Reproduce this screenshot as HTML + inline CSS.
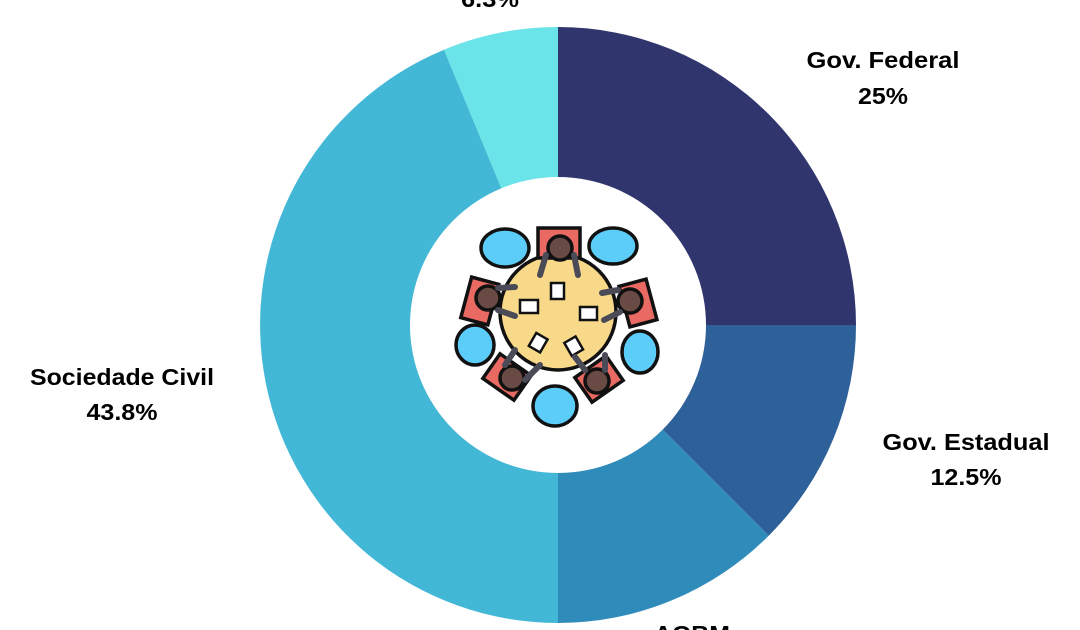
<!DOCTYPE html>
<html><head><style>
html,body{margin:0;padding:0;background:#fff;}
svg{display:block;}
text{font-family:"Liberation Sans","DejaVu Sans",sans-serif;font-weight:bold;font-size:23px;fill:#000;text-anchor:middle;}
</style></head><body>
<svg width="1080" height="630" viewBox="0 0 1080 630">
<path d="M558,325 L558,27 A298,298 0 0 1 856,325 Z" fill="#31356e"/>
<path d="M558,325 L856,325 A298,298 0 0 1 768.7,535.7 Z" fill="#2e6099"/>
<path d="M558,325 L768.7,535.7 A298,298 0 0 1 558,623 Z" fill="#2e8bba"/>
<path d="M558,325 L558,623 A298,298 0 0 1 444,49.7 Z" fill="#42b7d6"/>
<path d="M558,325 L444,49.7 A298,298 0 0 1 558,27 Z" fill="#6ae4e8"/>
<circle cx="558" cy="325" r="148" fill="#fff"/>
<g stroke="#111" stroke-width="3.5">
 <ellipse cx="505" cy="248" rx="24" ry="19" fill="#5bcdf8"/>
 <ellipse cx="613" cy="246" rx="24" ry="18" fill="#5bcdf8"/>
 <ellipse cx="475" cy="345" rx="19" ry="20" fill="#5bcdf8"/>
 <ellipse cx="640" cy="352" rx="18" ry="21" fill="#5bcdf8"/>
 <ellipse cx="555" cy="406" rx="22" ry="20" fill="#5bcdf8"/>
 <circle cx="558" cy="312" r="58" fill="#f8d889"/>
 <rect x="538" y="228" width="42" height="30" fill="#e86a62"/>
 <rect x="466" y="280" width="28" height="42" fill="#e86a62" transform="rotate(15 480 300)"/>
 <rect x="624" y="282" width="28" height="42" fill="#e86a62" transform="rotate(-15 638 303)"/>
 <rect x="488" y="362" width="38" height="30" fill="#e86a62" transform="rotate(35 507 377)"/>
 <rect x="580" y="364" width="38" height="30" fill="#e86a62" transform="rotate(-35 599 379)"/>
 <circle cx="560" cy="248" r="12" fill="#6a4a45"/>
 <circle cx="488" cy="298" r="12" fill="#6a4a45"/>
 <circle cx="630" cy="301" r="12" fill="#6a4a45"/>
 <circle cx="512" cy="378" r="12" fill="#6a4a45"/>
 <circle cx="597" cy="381" r="12" fill="#6a4a45"/>
 <rect x="551" y="283" width="13" height="16" fill="#fff" stroke-width="2.5"/>
 <rect x="520" y="300" width="18" height="13" fill="#fff" stroke-width="2.5"/>
 <rect x="580" y="307" width="17" height="13" fill="#fff" stroke-width="2.5"/>
 <rect x="532" y="335" width="13" height="15" fill="#fff" stroke-width="2.5" transform="rotate(30 538 342)"/>
 <rect x="567" y="339" width="13" height="15" fill="#fff" stroke-width="2.5" transform="rotate(-30 573 346)"/>
</g>
<g stroke="#4a4b57" stroke-width="6" stroke-linecap="round" fill="none">
 <path d="M546,255 L540,275 M574,255 L578,275"/>
 <path d="M498,288 L515,287 M498,310 L515,316"/>
 <path d="M618,290 L602,293 M620,312 L604,320"/>
 <path d="M505,365 L515,350 M525,380 L540,365"/>
 <path d="M585,370 L575,357 M605,370 L605,355"/>
</g>
<text x="490" y="7" textLength="58" lengthAdjust="spacingAndGlyphs">6.3%</text>
<text x="883" y="68" textLength="153" lengthAdjust="spacingAndGlyphs">Gov. Federal</text>
<text x="883" y="104" textLength="50" lengthAdjust="spacingAndGlyphs">25%</text>
<text x="966" y="450" textLength="167" lengthAdjust="spacingAndGlyphs">Gov. Estadual</text>
<text x="966" y="485" textLength="71" lengthAdjust="spacingAndGlyphs">12.5%</text>
<text x="122" y="385" textLength="184" lengthAdjust="spacingAndGlyphs">Sociedade Civil</text>
<text x="122" y="420" textLength="71" lengthAdjust="spacingAndGlyphs">43.8%</text>
<text x="692" y="642" textLength="76" lengthAdjust="spacingAndGlyphs">AGBM</text>
</svg>
</body></html>
